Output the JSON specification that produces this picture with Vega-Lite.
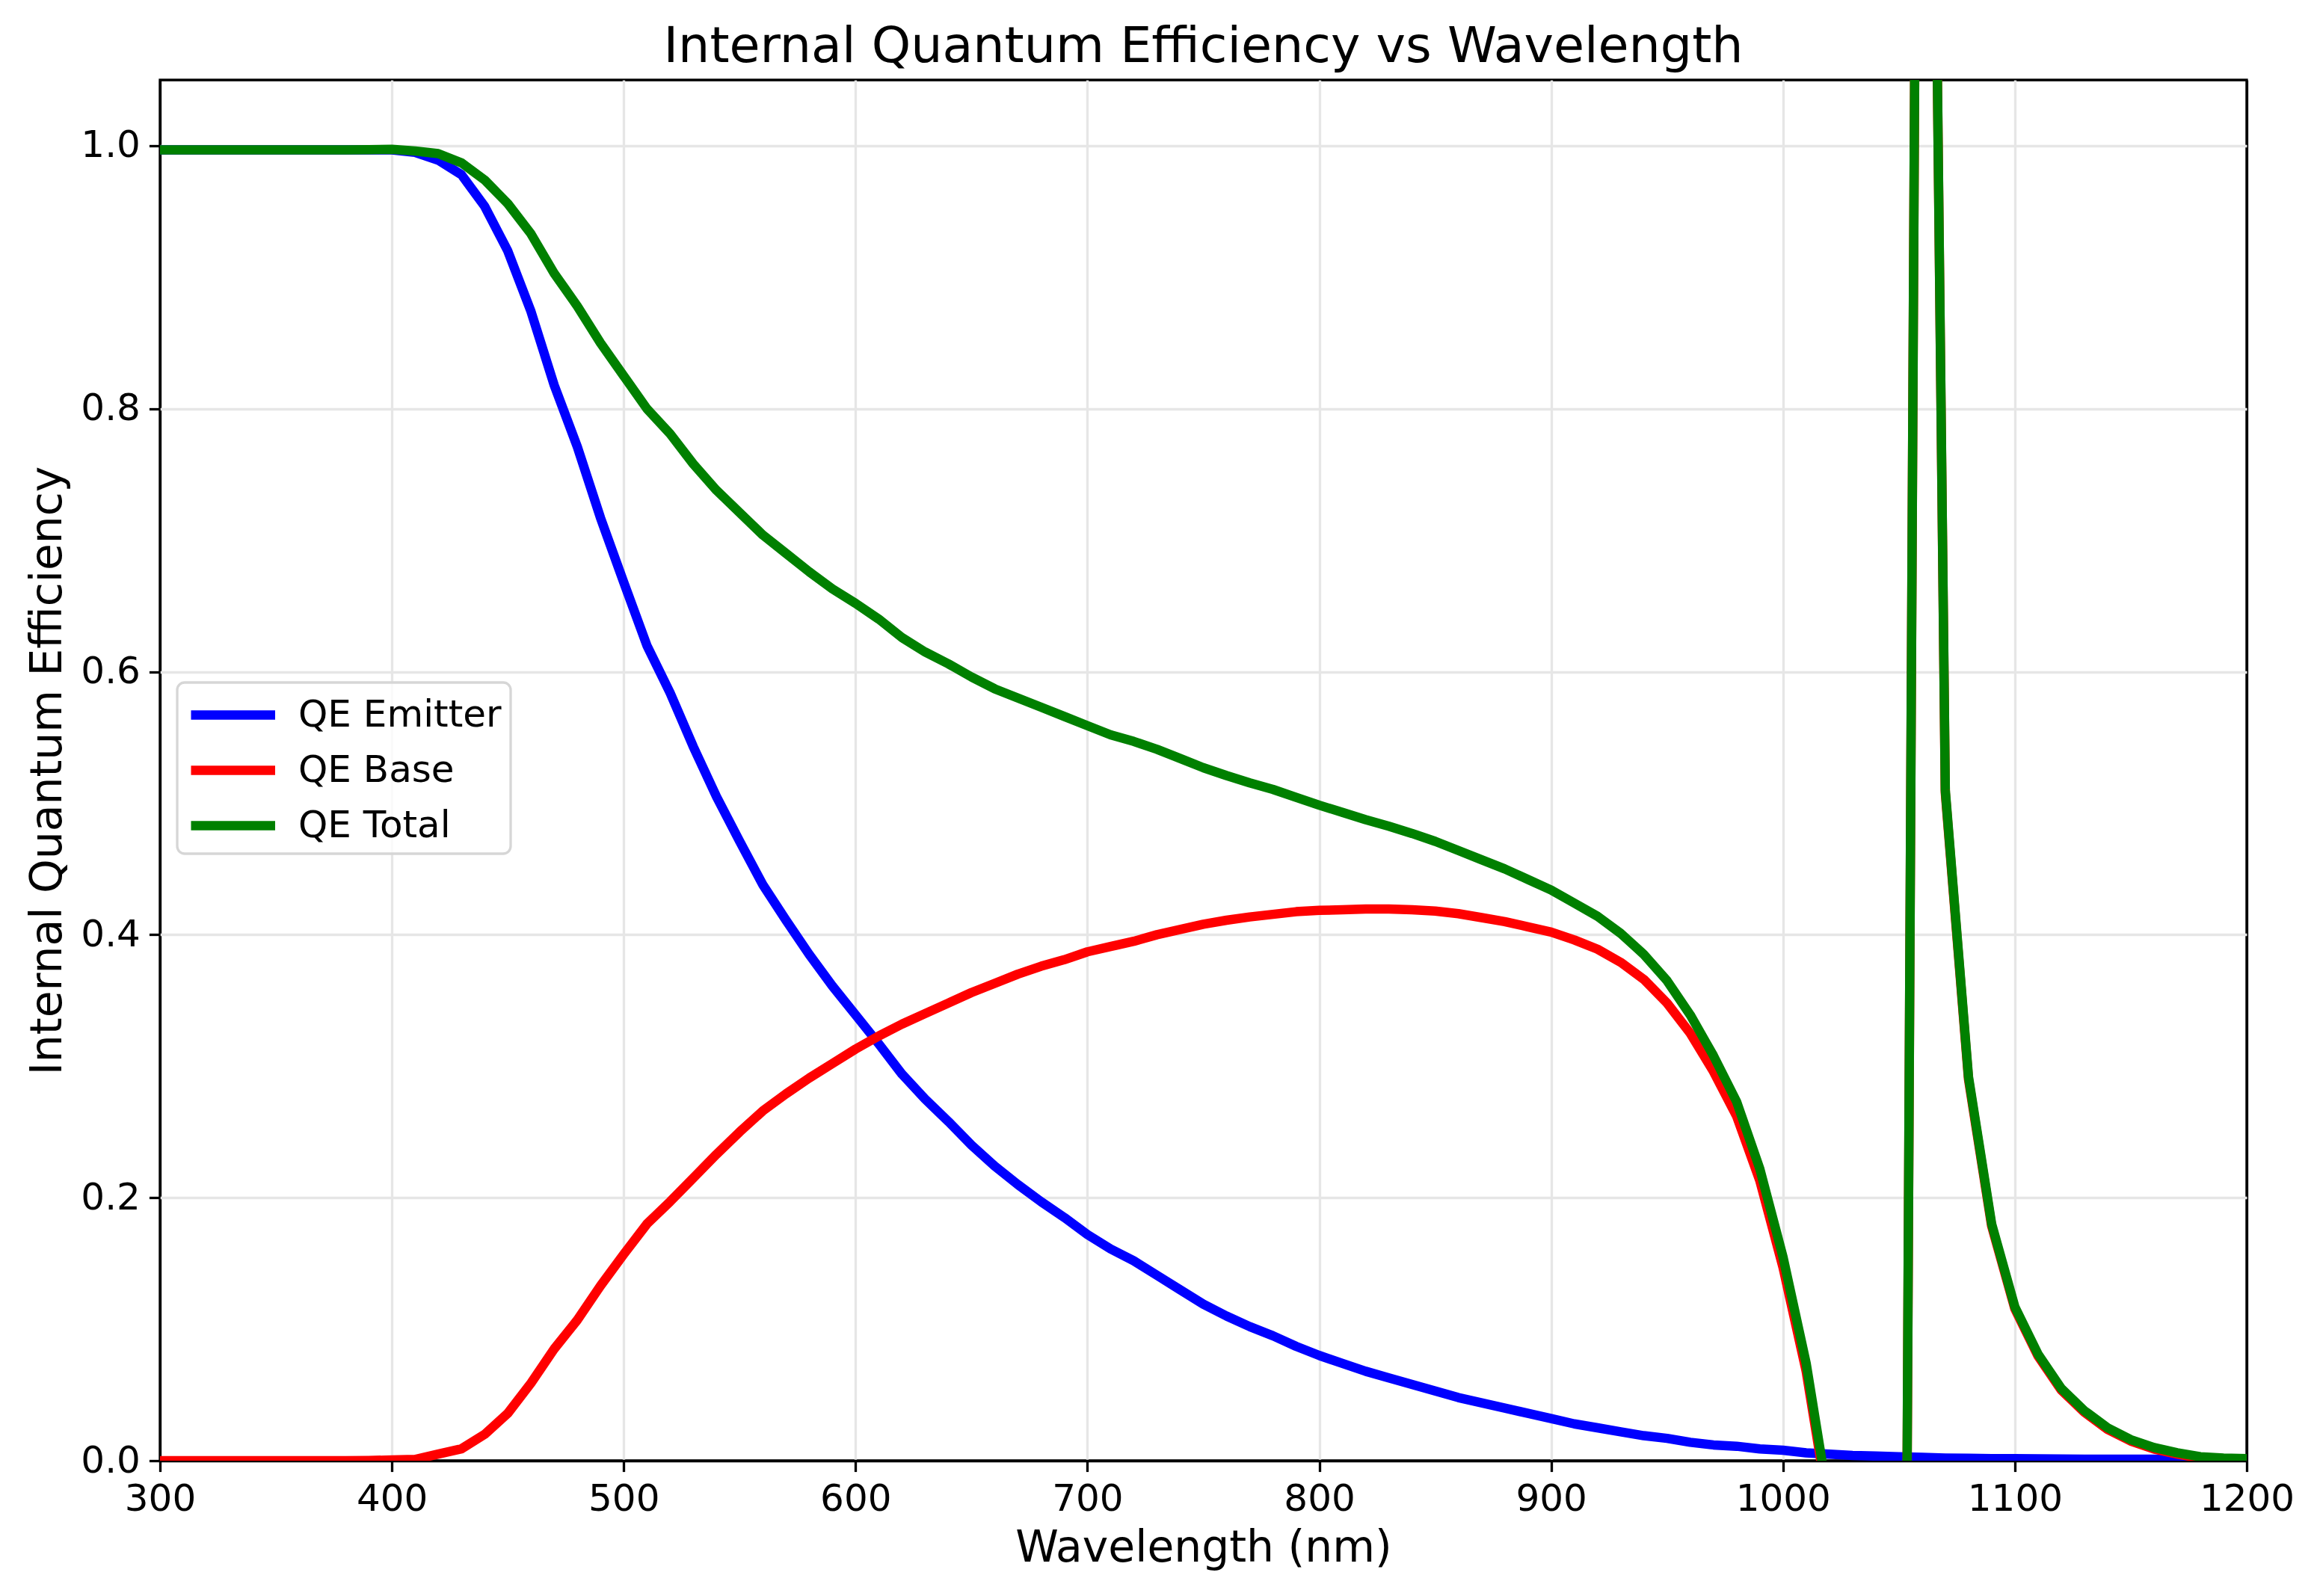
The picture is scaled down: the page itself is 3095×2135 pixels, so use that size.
{
  "$schema": "https://vega.github.io/schema/vega-lite/v6.json",
  "width": 2791,
  "height": 1847,
  "autosize": {"type": "none"},
  "padding": {"left": 214, "top": 107, "right": 90, "bottom": 181},
  "background": "white",
  "title": {
    "text": "Internal Quantum Efficiency vs Wavelength",
    "font": "DejaVu Sans",
    "fontSize": 66.7,
    "fontWeight": "normal",
    "color": "black",
    "anchor": "middle",
    "frame": "group",
    "baseline": "bottom",
    "offset": 10,
    "dy": 67
  },
  "config": {
    "view": {"stroke": "black", "strokeWidth": 3.3},
    "axis": {
      "labelFont": "DejaVu Sans",
      "labelFontSize": 50,
      "labelColor": "black",
      "titleFont": "DejaVu Sans",
      "titleFontSize": 58.3,
      "titleFontWeight": "normal",
      "titleColor": "black",
      "tickColor": "black",
      "tickWidth": 3.3,
      "tickSize": 14.6,
      "labelPadding": 12,
      "domain": false,
      "grid": true,
      "gridWidth": 3.3,
      "labelFlush": false,
      "labelOverlap": false
    },
    "legend": {
      "orient": "none",
      "legendX": 23,
      "legendY": 806,
      "title": null,
      "symbolType": "M-1,0H3.5",
      "symbolSize": 2500,
      "symbolStrokeWidth": 12.5,
      "symbolOffset": 0,
      "labelFont": "DejaVu Sans",
      "labelFontSize": 50,
      "labelColor": "black",
      "labelLimit": 0,
      "labelOffset": 87,
      "rowPadding": 17,
      "padding": 12,
      "strokeColor": "#d6d6d6",
      "strokeWidth": 3.3,
      "cornerRadius": 10,
      "fillColor": "rgba(255,255,255,0.8)"
    }
  },
  "data": {
    "values": [
      {"wl": 300, "QE Emitter": 0.9968, "QE Base": 0.0, "QE Total": 0.9968},
      {"wl": 310, "QE Emitter": 0.9968, "QE Base": 0.0, "QE Total": 0.9968},
      {"wl": 320, "QE Emitter": 0.9968, "QE Base": 0.0, "QE Total": 0.9968},
      {"wl": 330, "QE Emitter": 0.9968, "QE Base": 0.0, "QE Total": 0.9968},
      {"wl": 340, "QE Emitter": 0.9968, "QE Base": 0.0, "QE Total": 0.9968},
      {"wl": 350, "QE Emitter": 0.9968, "QE Base": 0.0, "QE Total": 0.9968},
      {"wl": 360, "QE Emitter": 0.9968, "QE Base": 0.0, "QE Total": 0.9968},
      {"wl": 370, "QE Emitter": 0.9968, "QE Base": 0.0, "QE Total": 0.9968},
      {"wl": 380, "QE Emitter": 0.9968, "QE Base": 0.0, "QE Total": 0.9968},
      {"wl": 390, "QE Emitter": 0.9968, "QE Base": 0.0002, "QE Total": 0.997},
      {"wl": 400, "QE Emitter": 0.9968, "QE Base": 0.0005, "QE Total": 0.9973},
      {"wl": 410, "QE Emitter": 0.995, "QE Base": 0.001, "QE Total": 0.996},
      {"wl": 420, "QE Emitter": 0.989, "QE Base": 0.005, "QE Total": 0.994},
      {"wl": 430, "QE Emitter": 0.978, "QE Base": 0.009, "QE Total": 0.987},
      {"wl": 440, "QE Emitter": 0.954, "QE Base": 0.02, "QE Total": 0.974},
      {"wl": 450, "QE Emitter": 0.92, "QE Base": 0.036, "QE Total": 0.956},
      {"wl": 460, "QE Emitter": 0.874, "QE Base": 0.059, "QE Total": 0.933},
      {"wl": 470, "QE Emitter": 0.818, "QE Base": 0.085, "QE Total": 0.903},
      {"wl": 480, "QE Emitter": 0.771, "QE Base": 0.107, "QE Total": 0.878},
      {"wl": 490, "QE Emitter": 0.717, "QE Base": 0.133, "QE Total": 0.85},
      {"wl": 500, "QE Emitter": 0.668, "QE Base": 0.157, "QE Total": 0.825},
      {"wl": 510, "QE Emitter": 0.62, "QE Base": 0.18, "QE Total": 0.8},
      {"wl": 520, "QE Emitter": 0.584, "QE Base": 0.197, "QE Total": 0.781},
      {"wl": 530, "QE Emitter": 0.543, "QE Base": 0.215, "QE Total": 0.758},
      {"wl": 540, "QE Emitter": 0.505, "QE Base": 0.233, "QE Total": 0.738},
      {"wl": 550, "QE Emitter": 0.471, "QE Base": 0.25, "QE Total": 0.721},
      {"wl": 560, "QE Emitter": 0.438, "QE Base": 0.266, "QE Total": 0.704},
      {"wl": 570, "QE Emitter": 0.411, "QE Base": 0.279, "QE Total": 0.69},
      {"wl": 580, "QE Emitter": 0.385, "QE Base": 0.291, "QE Total": 0.676},
      {"wl": 590, "QE Emitter": 0.361, "QE Base": 0.302, "QE Total": 0.663},
      {"wl": 600, "QE Emitter": 0.339, "QE Base": 0.313, "QE Total": 0.652},
      {"wl": 610, "QE Emitter": 0.317, "QE Base": 0.323, "QE Total": 0.64},
      {"wl": 620, "QE Emitter": 0.294, "QE Base": 0.332, "QE Total": 0.626},
      {"wl": 630, "QE Emitter": 0.275, "QE Base": 0.34, "QE Total": 0.615},
      {"wl": 640, "QE Emitter": 0.258, "QE Base": 0.348, "QE Total": 0.606},
      {"wl": 650, "QE Emitter": 0.24, "QE Base": 0.356, "QE Total": 0.596},
      {"wl": 660, "QE Emitter": 0.224, "QE Base": 0.363, "QE Total": 0.587},
      {"wl": 670, "QE Emitter": 0.21, "QE Base": 0.37, "QE Total": 0.58},
      {"wl": 680, "QE Emitter": 0.197, "QE Base": 0.376, "QE Total": 0.573},
      {"wl": 690, "QE Emitter": 0.185, "QE Base": 0.381, "QE Total": 0.566},
      {"wl": 700, "QE Emitter": 0.172, "QE Base": 0.387, "QE Total": 0.559},
      {"wl": 710, "QE Emitter": 0.161, "QE Base": 0.391, "QE Total": 0.552},
      {"wl": 720, "QE Emitter": 0.152, "QE Base": 0.395, "QE Total": 0.547},
      {"wl": 730, "QE Emitter": 0.141, "QE Base": 0.4, "QE Total": 0.541},
      {"wl": 740, "QE Emitter": 0.13, "QE Base": 0.404, "QE Total": 0.534},
      {"wl": 750, "QE Emitter": 0.119, "QE Base": 0.408, "QE Total": 0.527},
      {"wl": 760, "QE Emitter": 0.11, "QE Base": 0.411, "QE Total": 0.521},
      {"wl": 770, "QE Emitter": 0.102, "QE Base": 0.4135, "QE Total": 0.5155},
      {"wl": 780, "QE Emitter": 0.095, "QE Base": 0.4155, "QE Total": 0.5105},
      {"wl": 790, "QE Emitter": 0.087, "QE Base": 0.4175, "QE Total": 0.5045},
      {"wl": 800, "QE Emitter": 0.08, "QE Base": 0.4185, "QE Total": 0.4985},
      {"wl": 810, "QE Emitter": 0.074, "QE Base": 0.419, "QE Total": 0.493},
      {"wl": 820, "QE Emitter": 0.068, "QE Base": 0.4195, "QE Total": 0.4875},
      {"wl": 830, "QE Emitter": 0.063, "QE Base": 0.4195, "QE Total": 0.4825},
      {"wl": 840, "QE Emitter": 0.058, "QE Base": 0.419, "QE Total": 0.477},
      {"wl": 850, "QE Emitter": 0.053, "QE Base": 0.418, "QE Total": 0.471},
      {"wl": 860, "QE Emitter": 0.048, "QE Base": 0.416, "QE Total": 0.464},
      {"wl": 870, "QE Emitter": 0.044, "QE Base": 0.413, "QE Total": 0.457},
      {"wl": 880, "QE Emitter": 0.04, "QE Base": 0.41, "QE Total": 0.45},
      {"wl": 890, "QE Emitter": 0.036, "QE Base": 0.406, "QE Total": 0.442},
      {"wl": 900, "QE Emitter": 0.032, "QE Base": 0.402, "QE Total": 0.434},
      {"wl": 910, "QE Emitter": 0.028, "QE Base": 0.396, "QE Total": 0.424},
      {"wl": 920, "QE Emitter": 0.025, "QE Base": 0.389, "QE Total": 0.414},
      {"wl": 930, "QE Emitter": 0.022, "QE Base": 0.379, "QE Total": 0.401},
      {"wl": 940, "QE Emitter": 0.019, "QE Base": 0.366, "QE Total": 0.385},
      {"wl": 950, "QE Emitter": 0.017, "QE Base": 0.348, "QE Total": 0.365},
      {"wl": 960, "QE Emitter": 0.014, "QE Base": 0.325, "QE Total": 0.339},
      {"wl": 970, "QE Emitter": 0.012, "QE Base": 0.296, "QE Total": 0.308},
      {"wl": 980, "QE Emitter": 0.011, "QE Base": 0.262, "QE Total": 0.273},
      {"wl": 990, "QE Emitter": 0.009, "QE Base": 0.213, "QE Total": 0.222},
      {"wl": 1000, "QE Emitter": 0.008, "QE Base": 0.147, "QE Total": 0.155},
      {"wl": 1010, "QE Emitter": 0.006, "QE Base": 0.068, "QE Total": 0.074},
      {"wl": 1020, "QE Emitter": 0.005, "QE Base": -0.04, "QE Total": -0.035},
      {"wl": 1030, "QE Emitter": 0.004, "QE Base": -0.204, "QE Total": -0.2},
      {"wl": 1040, "QE Emitter": 0.0035, "QE Base": -0.5035, "QE Total": -0.5},
      {"wl": 1050, "QE Emitter": 0.003, "QE Base": -1.153, "QE Total": -1.15},
      {"wl": 1060, "QE Emitter": 0.0025, "QE Base": 2.0975, "QE Total": 2.1},
      {"wl": 1070, "QE Emitter": 0.002, "QE Base": 0.508, "QE Total": 0.51},
      {"wl": 1080, "QE Emitter": 0.0018, "QE Base": 0.2902, "QE Total": 0.292},
      {"wl": 1090, "QE Emitter": 0.0016, "QE Base": 0.1784, "QE Total": 0.18},
      {"wl": 1100, "QE Emitter": 0.0015, "QE Base": 0.1155, "QE Total": 0.117},
      {"wl": 1110, "QE Emitter": 0.0014, "QE Base": 0.0796, "QE Total": 0.081},
      {"wl": 1120, "QE Emitter": 0.0013, "QE Base": 0.0537, "QE Total": 0.055},
      {"wl": 1130, "QE Emitter": 0.0012, "QE Base": 0.0368, "QE Total": 0.038},
      {"wl": 1140, "QE Emitter": 0.0012, "QE Base": 0.0238, "QE Total": 0.025},
      {"wl": 1150, "QE Emitter": 0.0011, "QE Base": 0.0149, "QE Total": 0.016},
      {"wl": 1160, "QE Emitter": 0.0011, "QE Base": 0.0089, "QE Total": 0.01},
      {"wl": 1170, "QE Emitter": 0.001, "QE Base": 0.005, "QE Total": 0.006},
      {"wl": 1180, "QE Emitter": 0.001, "QE Base": 0.002, "QE Total": 0.003},
      {"wl": 1190, "QE Emitter": 0.001, "QE Base": 0.001, "QE Total": 0.002},
      {"wl": 1200, "QE Emitter": 0.001, "QE Base": 0.0005, "QE Total": 0.0015}
    ]
  },
  "transform": [
    {"fold": ["QE Emitter", "QE Base", "QE Total"], "as": ["series", "qe"]}
  ],
  "mark": {"type": "line", "strokeWidth": 12.5, "strokeJoin": "round", "clip": true},
  "encoding": {
    "x": {
      "field": "wl",
      "type": "quantitative",
      "title": "Wavelength (nm)",
      "scale": {"domain": [300, 1200], "nice": false, "zero": false},
      "axis": {
        "values": [300, 400, 500, 600, 700, 800, 900, 1000, 1100, 1200],
        "format": "d",
        "titlePadding": 12,
        "gridColor": {"condition": {"test": "datum.value == 300 || datum.value == 1200", "value": "black"}, "value": "#e6e6e6"}
      }
    },
    "y": {
      "field": "qe",
      "type": "quantitative",
      "title": "Internal Quantum Efficiency",
      "scale": {"domain": [0, 1.05], "nice": false},
      "axis": {
        "values": [0, 0.2, 0.4, 0.6, 0.8, 1.0],
        "format": ".1f",
        "titlePadding": 14,
        "gridColor": {"condition": {"test": "datum.value == 0", "value": "black"}, "value": "#e6e6e6"}
      }
    },
    "color": {
      "field": "series",
      "type": "nominal",
      "sort": ["QE Emitter", "QE Base", "QE Total"],
      "scale": {"domain": ["QE Emitter", "QE Base", "QE Total"], "range": ["#0000ff", "#ff0000", "#008000"]}
    },
    "order": {"field": "wl", "type": "quantitative"}
  }
}
